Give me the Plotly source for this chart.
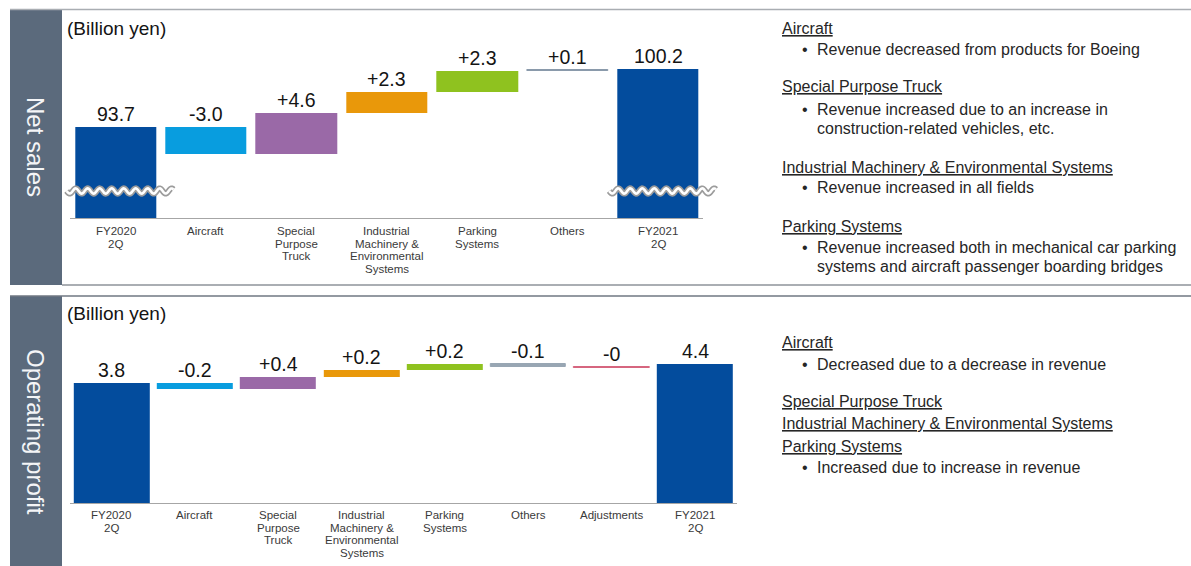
import numpy as np
import plotly.graph_objects as go

# ---------------- data ----------------
ns_categories = ["FY2020\n2Q", "Aircraft", "Special\nPurpose\nTruck",
                 "Industrial\nMachinery &\nEnvironmental\nSystems",
                 "Parking\nSystems", "Others", "FY2021\n2Q"]
ns_values = [93.7, -3.0, 4.6, 2.3, 2.3, 0.1, 100.2]
ns_is_total = [True, False, False, False, False, False, True]
ns_labels = ["93.7", "-3.0", "+4.6", "+2.3", "+2.3", "+0.1", "100.2"]

op_categories = ["FY2020\n2Q", "Aircraft", "Special\nPurpose\nTruck",
                 "Industrial\nMachinery &\nEnvironmental\nSystems",
                 "Parking\nSystems", "Others", "Adjustments", "FY2021\n2Q"]
op_values = [3.8, -0.2, 0.4, 0.2, 0.2, -0.1, -0.02, 4.4]
op_is_total = [True, False, False, False, False, False, False, True]
op_labels = ["3.8", "-0.2", "+0.4", "+0.2", "+0.2", "-0.1", "-0", "4.4"]

ns_notes = [
    ("head", "Aircraft"),
    ("bullet", "Revenue decreased from products for Boeing"),
    ("head", "Special Purpose Truck"),
    ("bullet", "Revenue increased due to an increase in"),
    ("cont", "construction-related vehicles, etc."),
    ("head", "Industrial Machinery & Environmental Systems"),
    ("bullet", "Revenue increased in all fields"),
    ("head", "Parking Systems"),
    ("bullet", "Revenue increased both in mechanical car parking"),
    ("cont", "systems and aircraft passenger boarding bridges"),
]
op_notes = [
    ("head", "Aircraft"),
    ("bullet", "Decreased due to a decrease in revenue"),
    ("head", "Special Purpose Truck"),
    ("head", "Industrial Machinery & Environmental Systems"),
    ("head", "Parking Systems"),
    ("bullet", "Increased due to increase in revenue"),
]

# ---------------- style ----------------
W, H = 1191, 566
FONT = "Liberation Sans, Arial, sans-serif"
BAND = "#5b6a7c"
TOTAL = "#034c9d"
ns_colors = [TOTAL, "#089ddf", "#9a69a7", "#e9980a", "#8fc21f", "#8a9aab", TOTAL]
op_colors = [TOTAL, "#089ddf", "#9a69a7", "#e9980a", "#8fc21f", "#98a6b3", "#d6667f", TOTAL]

ns_note_y = [28, 50, 87, 109, 128, 167, 188, 227, 247, 266]
op_note_y = [342, 364, 401, 423, 446, 467]

# axis placement in pixels: (left, right, bottom, top)
TOP_BOX = (70.3, 703.3, 218, 40)
BOT_BOX = (69.8, 736.7, 503, 330)
TOP_YRANGE = [83.6, 83.6 + 178 / 9.0]
BOT_YRANGE = [0, 173 / 31.6]
BREAK_AT = 86.6


def fx(px):
    return px / W


def fy(py):
    return 1 - py / H


def bars(values, is_total):
    bases, heights, tops = [], [], []
    running = 0.0
    for v, t in zip(values, is_total):
        if t:
            bases.append(0.0)
            heights.append(v)
            tops.append(v)
            running = v
        else:
            bases.append(running)
            heights.append(v)
            tops.append(running + max(v, 0))
            running += v
    return bases, heights, tops


fig = go.Figure()
annotations = []
shapes = []

panels = [
    (ns_categories, ns_values, ns_is_total, ns_labels, ns_colors, "x", "y", 0.9),
    (op_categories, op_values, op_is_total, op_labels, op_colors, "x2", "y2", 0.91),
]

for cats, vals, tot, labs, cols, xa, ya, bw in panels:
    bases, heights, tops = bars(vals, tot)
    xs = list(range(len(cats)))
    thin = [1 if abs(h) < 0.15 else 0 for h in heights]
    fig.add_trace(go.Bar(
        x=xs, y=heights, base=bases, width=bw,
        marker=dict(color=cols, line=dict(color=cols, width=thin)),
        xaxis=xa, yaxis=ya, hoverinfo="skip", showlegend=False,
    ))
    for i, (lab, top) in enumerate(zip(labs, tops)):
        annotations.append(dict(
            x=i, y=top, xref=xa, yref=ya, text=lab, showarrow=False,
            yanchor="bottom", xanchor="center",
            font=dict(family=FONT, size=19.5, color="#141414"),
        ))

# category labels below each baseline, one line at a time
for cats, xa, box, first in [(ns_categories, "x", TOP_BOX, 13), (op_categories, "x2", BOT_BOX, 12)]:
    for i, c in enumerate(cats):
        for k, line in enumerate(c.split("\n")):
            annotations.append(dict(
                x=i, y=fy(box[2]), xref=xa, yref="paper", text=line,
                showarrow=False, xanchor="center", yanchor="middle",
                yshift=-(first + k * 12.5),
                font=dict(family=FONT, size=11.5, color="#3a3a3a"),
            ))

# panel frames and side bands
shapes += [
    dict(type="rect", xref="paper", yref="paper", x0=fx(10), x1=fx(62), y0=fy(285), y1=fy(10),
         fillcolor=BAND, line=dict(width=0), layer="below"),
    dict(type="rect", xref="paper", yref="paper", x0=fx(10), x1=fx(62), y0=fy(566), y1=fy(296),
         fillcolor=BAND, line=dict(width=0), layer="below"),
    dict(type="line", xref="paper", yref="paper", x0=fx(10), x1=1, y0=fy(9.5), y1=fy(9.5),
         line=dict(color="#a9adb2", width=1.5)),
    dict(type="line", xref="paper", yref="paper", x0=fx(62), x1=1, y0=fy(285), y1=fy(285),
         line=dict(color="#8e939a", width=1.5)),
    dict(type="line", xref="paper", yref="paper", x0=fx(10), x1=1, y0=fy(296), y1=fy(296),
         line=dict(color="#6f7782", width=1.5)),
]

# axis break marks on the two net-sales totals
left, right, bottom, top = TOP_BOX
pitch = (right - left) / len(ns_categories)
ypx = bottom - (BREAK_AT - TOP_YRANGE[0]) / (TOP_YRANGE[1] - TOP_YRANGE[0]) * (bottom - top)
for i, t in enumerate(ns_is_total):
    if not t:
        continue
    cx = left + (i + 0.5) * pitch
    xs = np.linspace(cx - 0.54 * pitch, cx + 0.64 * pitch, 160)
    ys = ypx + 2.6 * np.sin((xs - xs[0]) / 12.0 * 2 * np.pi)
    path = "M " + " L ".join(f"{fx(a):.5f},{fy(b):.5f}" for a, b in zip(xs, ys))
    shapes.append(dict(type="path", xref="paper", yref="paper", path=path,
                       line=dict(color="#9c9c9c", width=6)))
    shapes.append(dict(type="path", xref="paper", yref="paper", path=path,
                       line=dict(color="#ffffff", width=2.6)))

# panel titles
for txt, ypos in [("Net sales", 147), ("Operating profit", 432)]:
    annotations.append(dict(x=fx(36), y=fy(ypos), xref="paper", yref="paper", text=txt,
                            textangle=90, showarrow=False, xanchor="center", yanchor="middle",
                            font=dict(family=FONT, size=24, color="#f4f5f7")))
for ypos in [28, 313]:
    annotations.append(dict(x=fx(65), y=fy(ypos), xref="paper", yref="paper",
                            text="(Billion yen)", showarrow=False, xanchor="left", yanchor="middle",
                            font=dict(family=FONT, size=19, color="#141414")))

# commentary on the right
for notes, ys in [(ns_notes, ns_note_y), (op_notes, op_note_y)]:
    for (kind, txt), ypos in zip(notes, ys):
        if kind == "head":
            items = [(779.5, f"<u>{txt}</u>")]
        elif kind == "bullet":
            items = [(800, "•"), (814.5, txt)]
        else:
            items = [(814.5, txt)]
        for xpos, t in items:
            annotations.append(dict(x=fx(xpos), y=fy(ypos), xref="paper", yref="paper", text=t,
                                    showarrow=False, xanchor="left", yanchor="middle",
                                    font=dict(family=FONT, size=16, color="#262626")))

axis_common = dict(showgrid=False, zeroline=False, showticklabels=False, ticks="",
                   fixedrange=True)
fig.update_layout(
    width=W, height=H, margin=dict(l=0, r=0, t=0, b=0),
    paper_bgcolor="white", plot_bgcolor="rgba(0,0,0,0)",
    bargap=0, showlegend=False,
    xaxis=dict(domain=[fx(TOP_BOX[0]), fx(TOP_BOX[1])], range=[-0.5, len(ns_categories) - 0.5],
               showline=True, linecolor="#a6a6a6", linewidth=1, anchor="y", **axis_common),
    yaxis=dict(domain=[fy(TOP_BOX[2]), fy(TOP_BOX[3])], range=TOP_YRANGE, anchor="x",
               showline=False, **axis_common),
    xaxis2=dict(domain=[fx(BOT_BOX[0]), fx(BOT_BOX[1])], range=[-0.5, len(op_categories) - 0.5],
                showline=True, linecolor="#a6a6a6", linewidth=1, anchor="y2", **axis_common),
    yaxis2=dict(domain=[fy(BOT_BOX[2]), fy(BOT_BOX[3])], range=BOT_YRANGE, anchor="x2",
                showline=False, **axis_common),
    annotations=annotations, shapes=shapes,
)

fig.write_html("out.html")
